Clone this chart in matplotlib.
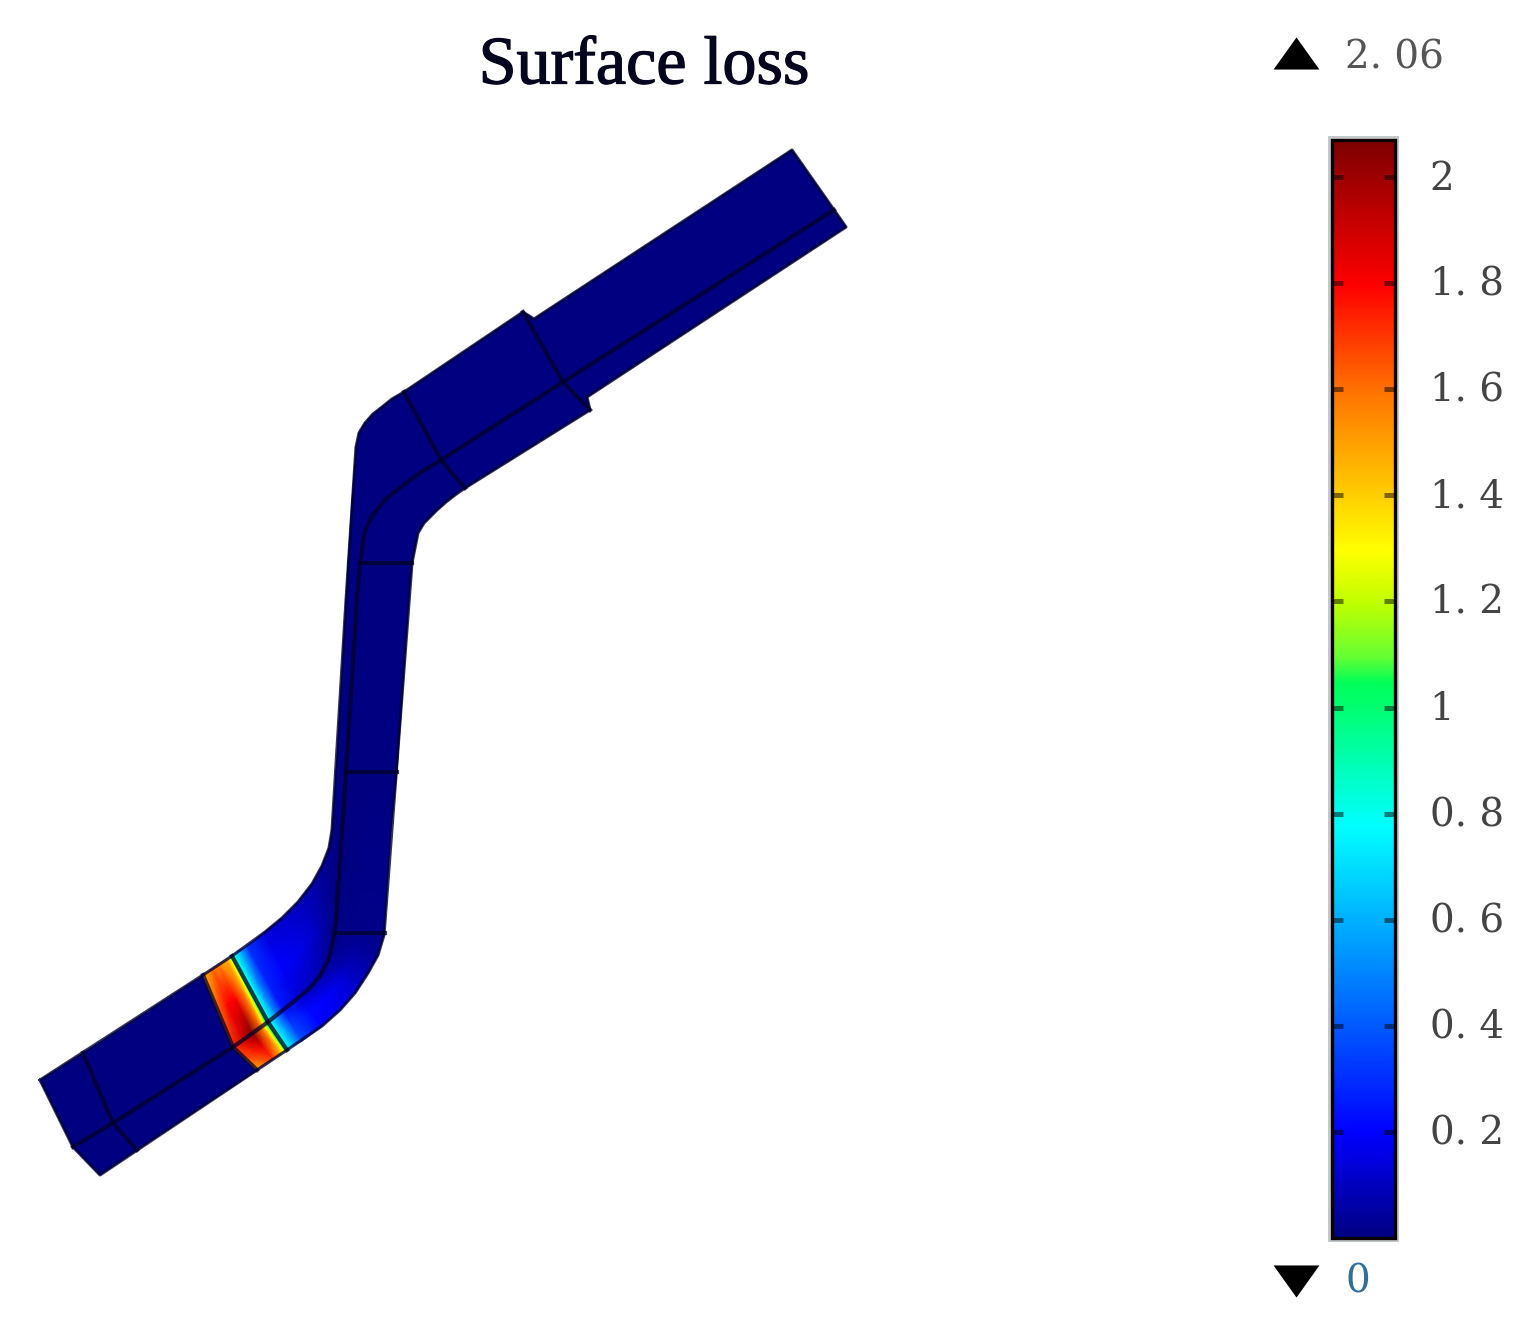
import numpy as np
import matplotlib
matplotlib.use("Agg")
import matplotlib.pyplot as plt
import matplotlib.patheffects as pe
from matplotlib.colors import Normalize, LinearSegmentedColormap
from matplotlib.path import Path
from matplotlib.transforms import ScaledTranslation

TITLE = "Surface loss"
MAX_LABEL = "2. 06"
MIN_LABEL = "0"
VMIN, VMAX = 0.0, 2.07
TICK_VALUES = [0.2, 0.4, 0.6, 0.8, 1.0, 1.2, 1.4, 1.6, 1.8, 2.0]
TICK_LABELS = ["0. 2", "0. 4", "0. 6", "0. 8", "1", "1. 2", "1. 4", "1. 6", "1. 8", "2"]

# Colour scale: value, (r, g, b)
SCALE_VALUES = [0.0, 0.2, 0.78, 1.0, 1.05, 1.1, 1.2, 1.3, 1.6, 1.8, 2.07]
SCALE_COLORS = [(0, 0, .5), (0, 0, 1), (0, 1, 1), (0, 1, .45), (0, 1, .35), (.4, 1, .2),
                (.75, 1, 0), (1, 1, 0), (1, .45, 0), (1, 0, 0), (.5, 0, 0)]

# Pipe geometry: one station per row (image pixels)
upper = [(40,1080),(83,1053),(202,976),(203,975),(212,969),(219,964),(227,959),(230,957),
         (232,956),(234,954),(240,950),(247,946),(265,932),(282,918),(298,902),(312,884),
         (322,866),(329,848),(332,830),(336,772),(346,600),(348,563),(352,500),(356,447),
         (359,433),(365,423),(373,414),(382,407),(392,399),(404,392),(523,312),(534,319),(792,150)]
center = [(73,1147),(113,1123),(232,1048),(233,1047),(243,1040),(252,1033),(261,1027),(264,1025),
          (267,1023),(270,1021),(276,1016),(283,1010),(298,998),(310,988),(320,976),(328,960),
          (333,942),(336,920),(340,850),(346,772),(357,600),(360,563),(365,530),(372,516),
          (385,500),(397,490),(410,480),(420,473),(431,466),(441,460),(563,382),(563,382),(834,210)]
lower = [(100,1175),(137,1150),(256,1071),(257,1070),(266,1064),(273,1059),(281,1054),(284,1052),
         (286,1051),(288,1049),(294,1045),(302,1041),(322,1026),(340,1010),(355,993),(368,973),
         (378,955),(384,935),(391,830),(397,772),(409,600),(412,563),(418,533),(424,523),
         (431,516),(437,510),(446,502),(455,495),(460,491),(465,488),(590,410),(587,397),(846,227)]

# Surface loss at each station, across the pipe: upper edge .. centre .. lower edge
no_loss = [0] * 14
loss_upper     = [0,0,0,1.45,1.60,1.55,1.45,1.30,1.05,0.80,0.60,0.32,0.14,0.12,0.10,0.07,0.04,0.02,0.01] + no_loss
loss_mid_upper = [0,0,0,1.60,1.80,1.80,1.55,1.30,1.05,0.80,0.50,0.28,0.20,0.18,0.14,0.08,0.04,0.02,0.01] + no_loss
loss_center    = [0,0,0,1.72,1.90,2.06,1.60,1.30,1.05,0.80,0.52,0.25,0.14,0.10,0.07,0.04,0.02,0.01,0.00] + no_loss
loss_mid_lower = [0,0,0,1.65,1.75,1.85,1.55,1.30,1.05,0.80,0.58,0.34,0.22,0.20,0.16,0.10,0.05,0.02,0.01] + no_loss
loss_lower     = [0,0,0,1.48,1.60,1.70,1.45,1.30,1.05,0.80,0.62,0.38,0.20,0.17,0.13,0.08,0.04,0.02,0.01] + no_loss

# Dark construction lines on the surface
outline = [(40,1080),(203,975),(232,956),(265,932),(282,918),(298,902),(312,884),(322,866),(329,848),
           (332,830),(346,600),(356,447),(359,433),(365,423),(373,414),(382,407),(392,399),(404,392),
           (523,312),(534,319),(792,150),(846,227),(587,397),(590,410),(465,488),(455,495),(446,502),
           (437,510),(431,516),(424,523),(418,533),(412,563),(384,935),(378,955),(368,973),(355,993),
           (340,1010),(322,1026),(287,1050),(257,1070),(100,1175),(73,1147),(40,1080)]
center_line = [(73,1147),(113,1123),(233,1047),(268,1022),(298,998),(310,988),(320,976),(328,960),
               (333,942),(336,920),(346,772),(357,600),(360,563),(365,530),(372,516),(385,500),
               (397,490),(410,480),(420,473),(441,460),(563,382),(834,210)]
cross_lines = [[(83,1053),(113,1123),(137,1150)],
               [(203,975),(233,1047),(257,1070)],
               [(232,956),(268,1022),(287,1050)],
               [(335,933),(385,933)],
               [(346,772),(397,772)],
               [(360,563),(412,563)],
               [(404,392),(441,460),(465,488)],
               [(523,312),(563,382),(590,410)]]

FIG_W, FIG_H = 1535, 1335
fig = plt.figure(figsize=(FIG_W/100, FIG_H/100), dpi=100, facecolor="white")
ax = fig.add_axes([0, 0, 1, 1])
ax.set_xlim(0, FIG_W)
ax.set_ylim(FIG_H, 0)
ax.axis("off")

U, C, L = (np.array(a, float) for a in (upper, center, lower))
rows = [U, (U + C) / 2, C, (C + L) / 2, L]
X = np.array([r[:, 0] for r in rows])
Y = np.array([r[:, 1] for r in rows])
Z = np.array([loss_upper, loss_mid_upper, loss_center, loss_mid_lower, loss_lower])

norm = Normalize(VMIN, VMAX)
cmap = LinearSegmentedColormap.from_list(
    "surface_rainbow", [((v - VMIN) / (VMAX - VMIN), c) for v, c in zip(SCALE_VALUES, SCALE_COLORS)], N=512)
mesh = ax.pcolormesh(X, Y, Z, shading="gouraud", cmap=cmap, norm=norm, rasterized=True)

line_col = "#00002a"
xy = np.array(outline)
ax.plot(xy[:, 0], xy[:, 1], color="#000038", lw=2.2, solid_joinstyle="round", alpha=0.8)
xy = np.array(center_line)
ax.plot(xy[:, 0], xy[:, 1], color=line_col, lw=3.0, alpha=0.75)
for seg in cross_lines:
    xy = np.array(seg)
    ax.plot(xy[:, 0], xy[:, 1], color=line_col, lw=3.0, alpha=0.75)

ax.text(644, 67, TITLE, ha="center", va="center", fontsize=49,
        family="Liberation Serif", color="#05051e",
        path_effects=[pe.withStroke(linewidth=0.9, foreground="#05051e")])

# Max / min markers
up_tri = Path([(-1, -0.7), (1, -0.7), (0, 0.7), (-1, -0.7)], closed=True)
dn_tri = Path([(-1, 0.7), (1, 0.7), (0, -0.7), (-1, 0.7)], closed=True)
ax.plot([1296], [53], marker=up_tri, ms=33, color="black", mew=0, ls="none")
ax.plot([1296], [1281], marker=dn_tri, ms=33, color="black", mew=0, ls="none")
ax.text(1345, 58, MAX_LABEL, ha="left", va="center", fontsize=28,
        family="DejaVu Serif", color="#555555")
ax.text(1346, 1282, MIN_LABEL, ha="left", va="center", fontsize=28,
        family="DejaVu Serif", color="#2f6f9f")

# Colour bar
ax.add_patch(plt.Rectangle((1328, 136), 71, 1106, facecolor="#c3c9cb", edgecolor="none"))
cax = fig.add_axes([1332/FIG_W, 1 - 1238/FIG_H, 63/FIG_W, 1098/FIG_H])
cb = fig.colorbar(mesh, cax=cax)
cb.set_ticks(TICK_VALUES, labels=TICK_LABELS)
cb.solids.set_edgecolor("face")
cb.outline.set_edgecolor("#0a0000")
cb.outline.set_linewidth(2.4)
cax.tick_params(axis="y", which="major", direction="in", left=True, right=True,
                length=8, width=3.6, color=(0, 0, 0, 0.5), pad=25, labelsize=28,
                labelcolor="#444444")
shift = ScaledTranslation(0, 2 / 100, fig.dpi_scale_trans)
for lab in cax.get_yticklabels():
    lab.set_family("DejaVu Serif")
    lab.set_transform(lab.get_transform() + shift)
cax.minorticks_off()

fig.savefig("out.png", dpi=100, facecolor="white")
